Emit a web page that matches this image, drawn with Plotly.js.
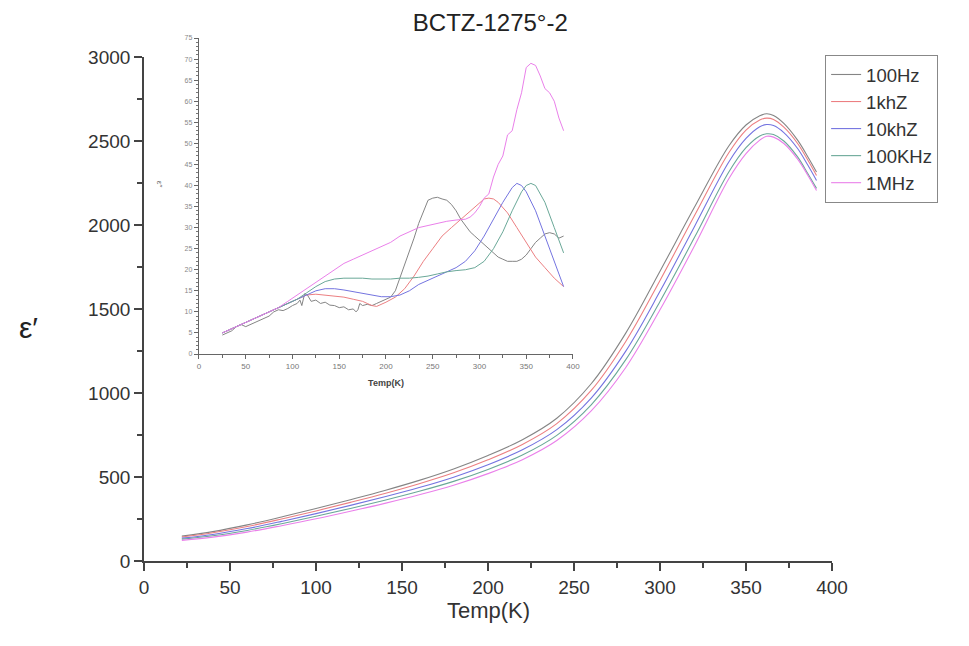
<!DOCTYPE html>
<html><head><meta charset="utf-8">
<script src="https://cdn.plot.ly/plotly-3.0.1.min.js"></script>
<style>body{margin:0;background:#fff}#chart{width:969px;height:646px}</style>
</head><body><div id="chart"></div>
<script>
// ---- main plot data (epsilon' vs Temp) ----
const mainT = [22,40,60,80,100,120,140,160,180,200,220,240,260,280,300,320,340,350,358,362,366,372,380,386,391];
const main100Hz  = [148,175,215,262,312,365,420,480,548,628,722,850,1055,1355,1725,2105,2470,2595,2650,2662,2652,2605,2505,2405,2315];
const main1kHz   = [143,168,205,250,298,349,402,460,525,602,694,818,1015,1305,1670,2055,2430,2565,2625,2636,2628,2582,2485,2385,2295];
const main10kHz  = [136,158,193,236,282,331,382,437,499,573,662,782,970,1248,1605,1990,2375,2515,2585,2598,2592,2550,2455,2355,2265];
const main100kHz = [130,150,182,222,266,313,362,415,474,545,631,748,930,1197,1545,1925,2315,2460,2530,2543,2538,2500,2405,2305,2218];
const main1MHz   = [123,142,172,210,251,296,343,394,451,520,603,717,893,1150,1495,1875,2275,2425,2505,2528,2523,2485,2392,2295,2205];

// ---- inset data (epsilon'' vs Temp) ----
const insT100Hz = [25,30,35,40,45,50,55,60,65,70,75,80,85,90,95,100,105,108,110,113,116,120,125,130,135,140,145,150,155,160,165,168,170,172,175,180,185,190,195,200,205,210,215,220,225,230,235,240,245,250,255,260,265,270,275,280,285,290,295,300,305,310,315,320,325,330,335,340,345,350,355,360,365,370,375,380,385,390];
const ins100Hz  = [4.5,5,5.5,6.5,7,6.5,7,7.5,8,8.5,9,10,10.5,10.3,10.8,11.5,12,12.8,11.5,14.3,14,12.5,12.8,12,12.3,11.6,11.5,11,11.2,10.5,10.7,10,10.5,12,11.5,11.8,11.5,12,12.5,13,13.5,15,18,21,24,27.5,31,34,36.5,37,37.2,36.8,36.5,35.5,34,32,30.5,29,28,27,26,25,24,23,22.5,22,22,22,22.5,23.5,25,26.5,27.5,28.5,28.8,28.5,27.5,28];
const insT1kHz = [25,35,45,55,65,75,85,95,105,115,125,135,145,155,165,175,180,185,190,195,200,210,220,230,240,250,260,270,280,290,300,305,310,315,320,330,340,350,360,370,380,390];
const ins1kHz  = [5,6,7,8,9,10,11,12,13,14,14.2,14,13.8,13.5,13,12.5,12,11.5,11.3,11.8,12.3,13.5,15.5,18.5,22,25,28,30,32,34,36,36.8,37,36.8,36,33.5,30,26.5,23,20.5,18,16];
const insT10kHz = [25,35,45,55,65,75,85,95,105,115,125,135,145,155,165,175,185,195,205,215,225,235,245,255,265,275,285,295,305,315,325,335,340,345,350,360,370,380,390];
const ins10kHz  = [5,6,7,8,9,10,11,12,13,14,15,15.5,15.5,15.2,14.8,14.3,14,13.6,13.6,14,15,16.5,17.5,18.5,19.5,20.5,22,24.5,28,32,36,39.5,40.5,40,38.5,34,28,22,16];
const insT100kHz = [25,35,45,55,65,75,85,95,105,115,125,135,145,155,165,175,185,195,205,215,225,235,245,255,265,275,285,295,305,315,325,335,345,350,355,360,370,380,390];
const ins100kHz  = [5,6,7,8,9,10,11,12,13,14.5,16,17.2,17.8,18,18,18,17.8,17.8,17.8,18,18,18.2,18.5,19,19.5,19.8,20,20.5,22,25,29,34,38.5,40,40.5,40,36,30,24];
const insT1MHz = [25,35,45,55,65,75,85,95,105,115,125,135,145,155,165,175,185,195,205,215,225,235,245,255,265,275,285,290,295,300,305,310,315,320,325,330,335,340,345,350,355,360,365,370,375,380,385,390];
const ins1MHz  = [5,6,7,8,9,10,11,12.5,14,15.5,17,18.5,20,21.5,22.5,23.5,24.5,25.5,26.5,28,29,30,30.5,31,31.5,31.8,32,32.5,33.5,35,37,38,42,45,47,52,53,58,62,68,69,68.5,66,63,62,60,56,53];

const names = ['100Hz','1khZ','10khZ','100KHz','1MHz'];
const colors = ['#858585','#ec7f82','#7474e0','#6aa898','#ea80ea'];

const mainY = [main100Hz, main1kHz, main10kHz, main100kHz, main1MHz];
const insX = [insT100Hz, insT1kHz, insT10kHz, insT100kHz, insT1MHz];
const insY = [ins100Hz, ins1kHz, ins10kHz, ins100kHz, ins1MHz];

const traces = [];
for (let i = 0; i < 5; i++) {
  traces.push({x: mainT, y: mainY[i], type: 'scatter', mode: 'lines', name: names[i],
    line: {color: colors[i], width: 1.1, shape: 'spline', smoothing: 1}, xaxis: 'x', yaxis: 'y'});
}
for (let i = 0; i < 5; i++) {
  traces.push({x: insX[i], y: insY[i], type: 'scatter', mode: 'lines', showlegend: false,
    line: {color: colors[i], width: 1}, xaxis: 'x2', yaxis: 'y2'});
}

const FONT = 'Liberation Sans, Arial, sans-serif';
const layout = {
  width: 969, height: 646,
  margin: {l: 144, r: 137, t: 30, b: 85},
  paper_bgcolor: '#fff', plot_bgcolor: 'rgba(0,0,0,0)',
  font: {family: FONT, color: '#333'},
  title: {text: 'BCTZ-1275°-2', font: {size: 24, color: '#222', family: FONT}, x: 0.506, xanchor: 'center', y: 0.965, yanchor: 'middle'},
  showlegend: true,
  legend: {x: 0.99, xanchor: 'left', y: 0.953, yanchor: 'top', bordercolor: '#888', borderwidth: 1,
    bgcolor: '#fff', font: {size: 18.5, color: '#333', family: FONT}, tracegroupgap: 0},
  xaxis: {domain: [0, 1], range: [0, 400], tickvals: [0,50,100,150,200,250,300,350,400],
    ticks: 'outside', ticklen: 8, tickwidth: 1.5, tickcolor: '#444', showline: true, linecolor: '#444', linewidth: 1.8,
    showgrid: false, zeroline: false, tickfont: {size: 19, color: '#333'},
    minor: {dtick: 25, ticks: 'outside', ticklen: 5, tickcolor: '#444', showgrid: false}, anchor: 'y'},
  yaxis: {domain: [0, 0.9492], range: [0, 3000], tickvals: [0,500,1000,1500,2000,2500,3000],
    ticks: 'outside', ticklen: 8, tickwidth: 1.5, tickcolor: '#444', showline: true, linecolor: '#444', linewidth: 1.8,
    showgrid: false, zeroline: false, tickfont: {size: 19, color: '#333'},
    minor: {dtick: 250, ticks: 'outside', ticklen: 5, tickcolor: '#444', showgrid: false}, anchor: 'x'},
  xaxis2: {domain: [0.0799, 0.6235], range: [0, 400], tickvals: [0,50,100,150,200,250,300,350,400],
    ticks: 'outside', ticklen: 4, tickwidth: 1, tickcolor: '#666', showline: true, linecolor: '#666', linewidth: 1.2,
    showgrid: false, zeroline: false, tickfont: {size: 8, color: '#777'},
    minor: {dtick: 25, ticks: 'outside', ticklen: 2.5, tickcolor: '#666', showgrid: false},
    title: {text: '<b>Temp(K)</b>', font: {size: 9, color: '#444'}, standoff: 9}, anchor: 'y2'},
  yaxis2: {domain: [0.3898, 0.9849], range: [0, 75], tickvals: [0,5,10,15,20,25,30,35,40,45,50,55,60,65,70,75],
    ticks: 'outside', ticklen: 4, tickwidth: 1, tickcolor: '#666', showline: true, linecolor: '#666', linewidth: 1.2,
    showgrid: false, zeroline: false, tickfont: {size: 7, color: '#888'},
    minor: {dtick: 1, ticks: 'outside', ticklen: 2, tickcolor: '#777', showgrid: false}, anchor: 'x2'},
  annotations: [
    {text: 'Temp(K)', xref: 'paper', yref: 'paper', x: 0.5, xanchor: 'center', y: -0.094, yanchor: 'middle', showarrow: false,
      font: {size: 22, color: '#333', family: FONT}},
    {text: 'ε′', xref: 'paper', yref: 'paper', x: -0.1686, xanchor: 'center', y: 0.44, yanchor: 'middle', showarrow: false,
      font: {size: 30, color: '#222', family: FONT}},
    {text: 'ε′′', xref: 'paper', yref: 'paper', x: 0.022, xanchor: 'center', y: 0.71, yanchor: 'middle', showarrow: false, textangle: 90,
      font: {size: 8, color: '#666', family: FONT}}
  ]
};
Plotly.newPlot('chart', traces, layout, {displayModeBar: false, staticPlot: true});
</script>
</body></html>
